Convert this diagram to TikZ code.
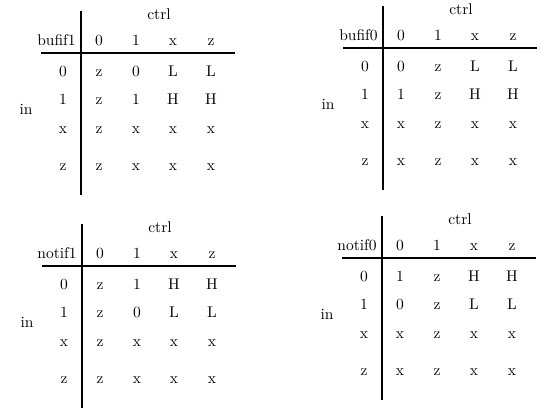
\documentclass[tikz,border=0pt]{standalone}
\usepackage{tikz}
\usetikzlibrary{positioning}
\tikzstyle{entry} = [inner sep=0pt, anchor=base]
\tikzstyle{rule} = [draw, line width=0.9pt]

\begin{document}
\begin{tikzpicture}[x=0.645pt, y=-0.645pt]
  \useasboundingbox (0,0) rectangle (554,410);

  \foreach \gate/\cx/\cy/\rows in {
    bufif1/81/53/{0/z/0/L/L,1/z/1/H/H,x/z/x/x/x,z/z/x/x/x},
    bufif0/383/48/{0/0/z/L/L,1/1/z/H/H,x/x/z/x/x,z/x/z/x/x},
    notif1/82/266/{0/z/1/H/H,1/z/0/L/L,x/z/x/x/x,z/z/x/x/x},
    notif0/382/258/{0/1/z/H/H,1/0/z/L/L,x/x/z/x/x,z/x/z/x/x}}
  {
    \begin{scope}[shift={(\cx,\cy)}]
      \coordinate (\gate-n) at (0,-42);
      \coordinate (\gate-s) at (0,142);
      \coordinate (\gate-w) at (-40,0);
      \coordinate (\gate-e) at (154,0);
      \path [rule] (\gate-n) -- (\gate-s);
      \path [rule] (\gate-w) -- (\gate-e);

      \node [entry] (\gate-ctrl) at (78,-33.5) {ctrl};
      \node [entry, anchor=base east] (\gate) at (-5,-7) {\gate};
      \node [entry] (\gate-in) at (-55,62) {in};

      \foreach \v/\px [count=\k] in {0/18,1/55,x/92,z/130}
        \node [entry] (\gate-h\k) at (\px,-7) {\v};

      \foreach \lab/\pa/\pb/\pc/\pd [count=\r] in \rows {
        \pgfmathsetmacro{\py}{{24,51.5,81,117.5}[\r-1]}
        \node [entry] (\gate-r\r) at (-18,\py) {\lab};
        \foreach \v/\px [count=\k] in {\pa/18,\pb/55,\pc/92,\pd/130}
          \node [entry] (\gate-\r-\k) at (\px,\py) {\v};
      }
    \end{scope}
  }
\end{tikzpicture}
\end{document}
